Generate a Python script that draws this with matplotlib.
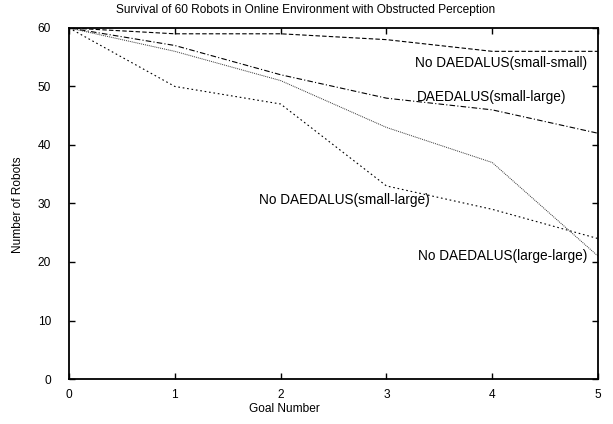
import matplotlib
matplotlib.use("Agg")
import matplotlib.pyplot as plt

plt.rcParams['font.family'] = ['Liberation Sans', 'DejaVu Sans']

goals = [0, 1, 2, 3, 4, 5]
nd_small_small = [60, 59, 59, 58, 56, 56]
d_small_large = [60, 57, 52, 48, 46, 42]
nd_large_large = [60, 56, 51, 43, 37, 21]
nd_small_large = [60, 50, 47, 33, 29, 24]

fig = plt.figure(figsize=(6.13, 4.24), dpi=100)
ax = fig.add_axes([0.1126, 0.1061, 0.863, 0.828])

ax.plot(goals, nd_small_small, color='black', lw=0.8, linestyle=(0, (4, 2)))
ax.plot(goals, d_small_large, color='black', lw=0.8, linestyle=(0, (5, 2, 1, 2)))
ax.plot(goals, nd_large_large, color='#333333', lw=0.7, linestyle=(0, (1, 1)))
ax.plot(goals, nd_small_large, color='black', lw=0.8, linestyle=(0, (1.5, 2.5)))

# curve labels, gnuplot style
fs = 9.8
ax.text(4.9, 54.0, 'No DAEDALUS(small-small)', ha='right', va='center', fontsize=fs)
ax.text(3.29, 48.2, 'DAEDALUS(small-large)', ha='left', va='center', fontsize=fs)
ax.text(1.8, 30.6, 'No DAEDALUS(small-large)', ha='left', va='center', fontsize=fs)
ax.text(4.9, 21.0, 'No DAEDALUS(large-large)', ha='right', va='center', fontsize=fs)

ax.set_xlim(0, 5)
ax.set_ylim(0, 60)
ax.set_xticks(goals)
ax.set_yticks(range(0, 61, 10))
ax.tick_params(direction='in', top=True, right=True, labelsize=8.6, length=4, width=1)
ax.tick_params(axis='x', pad=7)
ax.tick_params(axis='y', pad=13)
for s in ax.spines.values():
    s.set_linewidth(1.3)

fig.text(284 / 613, 1 - 409 / 424, 'Goal Number', ha='center', va='center', fontsize=8.6)
fig.text(18 / 613, 1 - 205 / 424, 'Number of Robots', ha='center', va='center',
         rotation=90, fontsize=8.6)
fig.text(306 / 613, 1 - 10 / 424,
         'Survival of 60 Robots in Online Environment with Obstructed Perception',
         ha='center', va='center', fontsize=8.6)

fig.savefig('out.png', dpi=100)
